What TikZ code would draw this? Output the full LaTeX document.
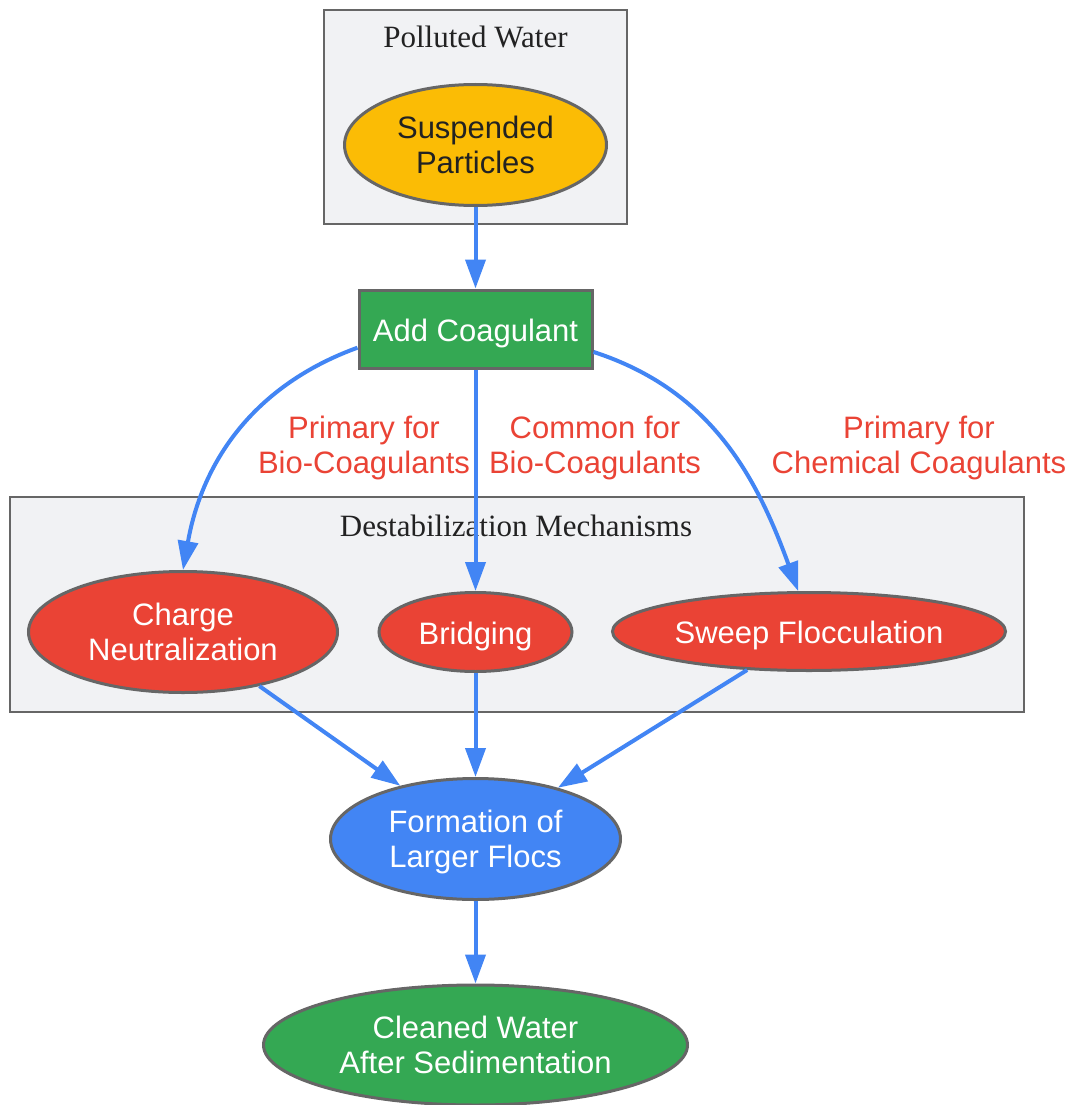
\documentclass[tikz,border=0pt]{standalone}
\usepackage{fontspec}
\setmainfont{Liberation Serif}
\newfontfamily\nodefont{Liberation Sans}
\usetikzlibrary{shapes.geometric,arrows.meta}
\pgfdeclarelayer{background}
\pgfsetlayers{background,main}
\definecolor{gyellow}{HTML}{FBBC05}
\definecolor{ggreen}{HTML}{34A853}
\definecolor{gred}{HTML}{EA4335}
\definecolor{gblue}{HTML}{4285F4}
\definecolor{bordergray}{HTML}{666666}
\definecolor{clusterfill}{HTML}{F1F2F4}
\definecolor{darktext}{HTML}{222222}

\begin{document}
\begin{tikzpicture}[x=1pt,y=1pt,
						ovalnode/.style={ellipse, draw=bordergray, line width=3pt, inner sep=0pt, align=center, text=white, text depth=0pt, font=\nodefont\fontsize{31}{35}\selectfont},
						oneline/.style={text height=30pt, text depth=6pt},
						boxnode/.style={rectangle, draw=bordergray, line width=3pt, inner sep=0pt, align=center, text=white, font=\nodefont\fontsize{31}{35}\selectfont},
						clusterbox/.style={rectangle, draw=bordergray, line width=2pt, fill=clusterfill, inner sep=0pt},
						clusterlabel/.style={anchor=base, text=darktext, font=\fontsize{31}{35}\selectfont},
						edgelabel/.style={align=center, text=gred, font=\nodefont\fontsize{31}{35}\selectfont},
						flow/.style={draw=gblue, line width=4pt, -{Triangle[length=29pt,width=20pt]}},
						]
						\useasboundingbox (0,0) rectangle (1070,-1105);
						%Clusters
						\node[clusterbox, minimum width=303, minimum height=214]	(polluted)	at	(475.5,-117)	{};
						\node[clusterlabel]	(pollutedlabel)	at	(475.5,-48)	{Polluted Water};
						\node[clusterbox, minimum width=1014, minimum height=215]	(destab)	at	(517,-604.5)	{};
						\node[clusterlabel]	(destablabel)	at	(516,-536)	{Destabilization Mechanisms};
						%Nodes
						\node[ovalnode, fill=gyellow, text=darktext, minimum width=262, minimum height=121]	(sp)	at	(475.5,-145)	{Suspended\\Particles};
						\node[boxnode, oneline, fill=ggreen, minimum width=233, minimum height=78]	(add)	at	(475.5,-329)	{Add Coagulant};
						\node[ovalnode, fill=gred, minimum width=309, minimum height=121]	(charge)	at	(183,-632)	{Charge\\Neutralization};
						\node[ovalnode, oneline, fill=gred, minimum width=193, minimum height=79]	(bridge)	at	(475.5,-632)	{Bridging};
						\node[ovalnode, oneline, fill=gred, minimum width=393, minimum height=78]	(sweep)	at	(809,-631.5)	{Sweep Flocculation};
						\node[ovalnode, fill=gblue, minimum width=290, minimum height=121]	(flocs)	at	(475.5,-839)	{Formation of\\Larger Flocs};
						\node[ovalnode, fill=ggreen, minimum width=424, minimum height=120]	(cleaned)	at	(475.5,-1045)	{Cleaned Water\\After Sedimentation};
						%Edge labels
						\node[edgelabel]	(lprimbio)	at	(364,-448)	{Primary for\\Bio-Coagulants};
						\node[edgelabel]	(lcommbio)	at	(595,-448)	{Common for\\Bio-Coagulants};
						\node[edgelabel]	(lprimchem)	at	(919,-448)	{Primary for\\Chemical Coagulants};
						%Edges
						\draw[flow] (sp) -- (add);
						\draw[flow] (add.189) to[out=200,in=80] (charge.north);
						\draw[flow] (add) -- (bridge);
						\draw[flow] (add.-11) to[out=-18,in=110] (sweep.105);
						\draw[flow] (charge) -- (flocs);
						\draw[flow] (bridge) -- (flocs);
						\draw[flow] (sweep) -- (flocs);
						\draw[flow] (flocs) -- (cleaned);
					\end{tikzpicture}
\end{document}
